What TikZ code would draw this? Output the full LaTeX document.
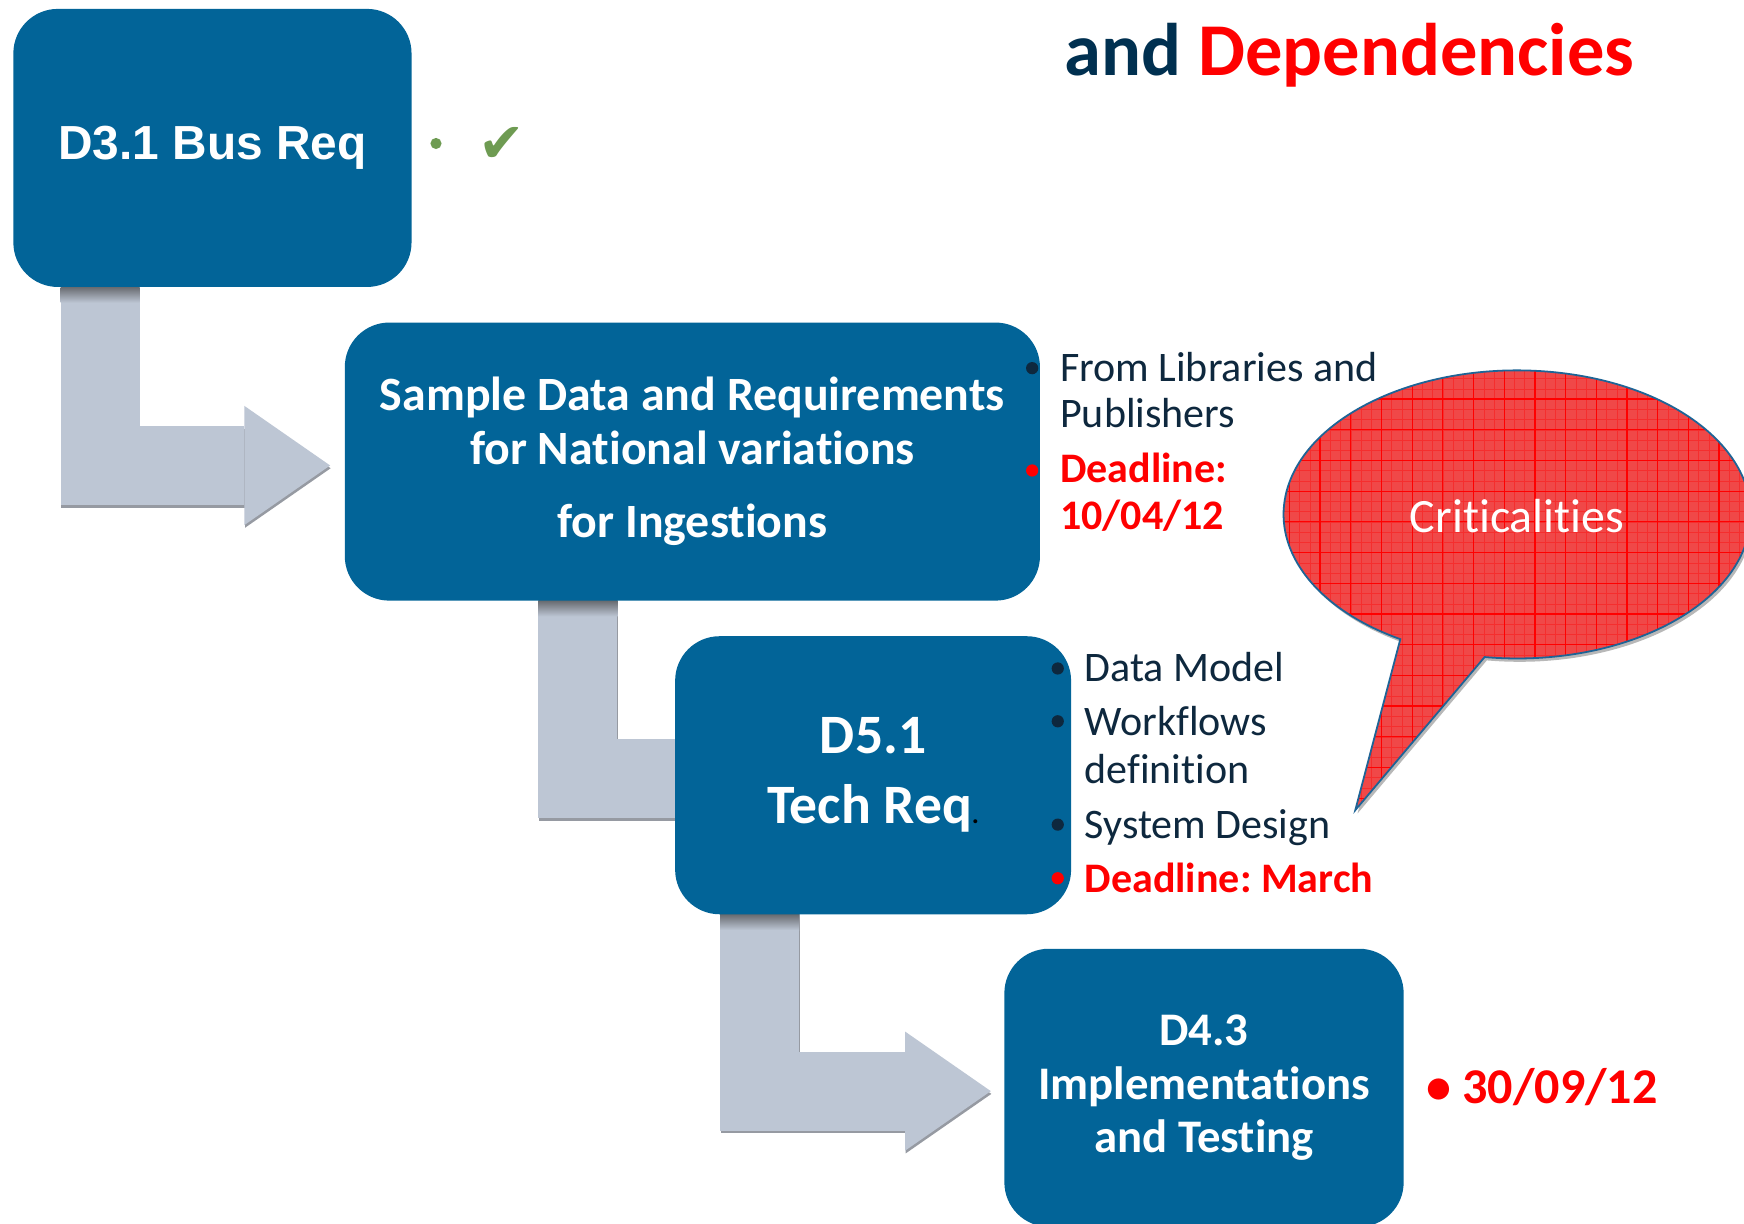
\documentclass[tikz,border=0pt]{standalone}
\usepackage{fontspec}
\setmainfont{Carlito}[Ligatures=NoCommon]
\newfontfamily\arialfont{Liberation Sans}
\newfontfamily\dejafont{DejaVu Sans}
\usetikzlibrary{arrows.meta,calc}
\pgfdeclarelayer{bglayer}
\pgfdeclarelayer{arrowlayer}
\pgfsetlayers{bglayer,arrowlayer,main}
\definecolor{boxblue}{RGB}{2,100,152}
\definecolor{arrowgray}{RGB}{189,198,212}
\definecolor{arrowedge}{RGB}{150,154,162}
\definecolor{itemnavy}{RGB}{14,40,62}
\definecolor{titlenavy}{RGB}{0,48,80}
\definecolor{checkgreen}{RGB}{110,155,82}
\definecolor{bubblefill}{RGB}{240,72,72}
\definecolor{bubbleborder}{RGB}{30,100,150}
\frenchspacing
\begin{document}
\begin{tikzpicture}[x=1pt,y=-1pt,
  stepbox/.style={rounded corners=40pt, fill=boxblue, text=white, align=center, inner sep=0pt, minimum height=250pt},
  bigarrow/.style={draw=arrowgray, line width=71pt, line join=miter, line cap=butt, -{Triangle[length=77pt,width=107pt,line width=0pt]}},
  arrowshadow/.style={bigarrow, draw=arrowedge, transform canvas={shift={(0.5pt,-2.5pt)}}},
  topshade/.style={top color=arrowedge!70!black, bottom color=arrowgray},
  item/.style={anchor=base west, inner sep=0pt, text=itemnavy, font=\fontsize{37.8}{42}\selectfont},
  reditem/.style={item, text=red, font=\bfseries\fontsize{37.8}{42}\selectfont},
  dot/.style={fill=itemnavy},
  reddot/.style={fill=red},
]
\useasboundingbox (0,0) rectangle (1568,1099.6);
\begin{pgfonlayer}{bglayer}
  \fill[white] (0,0) rectangle (1568,1099.6);
\end{pgfonlayer}

% boxes
\node[stepbox, minimum width=358pt, font=\arialfont\bfseries\fontsize{43}{48}\selectfont] (b1) at (191,133) {D3.1 Bus Req};
\node[stepbox, minimum width=625pt, font=\bfseries\fontsize{43}{48}\selectfont] (b2) at (622.5,415)
  {Sample Data and Requirements\\ for National variations\\[18pt] for Ingestions};
\node[stepbox, minimum width=356pt, font=\bfseries\fontsize{50}{63}\selectfont] (b3) at (785,697)
  {D5.1\\ Tech Req{\color{black}\fontsize{24}{24}\selectfont.}};
\node[stepbox, minimum width=359pt, font=\bfseries\fontsize{42}{48}\selectfont] (b4) at (1082.5,978)
  {D4.3\\ Implementations\\ and Testing};

% connectors
\begin{pgfonlayer}{arrowlayer}
  \draw[arrowshadow] ($(b1.south)+(-101,-25)$) |- ($(b2.west)+(-13,3.5)$);
  \draw[bigarrow] ($(b1.south)+(-101,-25)$) |- ($(b2.west)+(-13,3.5)$);
  \shade[topshade] ($(b1.south)+(-136.5,0)$) rectangle ++(71,14);

  \draw[arrowshadow] ($(b2.south)+(-103,-25)$) |- ($(b3.west)+(119,3)$);
  \draw[bigarrow] ($(b2.south)+(-103,-25)$) |- ($(b3.west)+(119,3)$);
  \shade[topshade] ($(b2.south)+(-138.5,0)$) rectangle ++(71,14);

  \draw[arrowshadow] ($(b3.south)+(-102,-25)$) |- ($(b4.west)+(-12,3)$);
  \draw[bigarrow] ($(b3.south)+(-102,-25)$) |- ($(b4.west)+(-12,3)$);
  \shade[topshade] ($(b3.south)+(-137.5,0)$) rectangle ++(71,14);
\end{pgfonlayer}

% title
\node[anchor=base west, inner sep=0pt, font=\bfseries\fontsize{67}{72}\selectfont] (title) at (957,68)
  {\textcolor{titlenavy}{and} \textcolor{red}{Dependencies}};

% D3.1 notes
\fill[checkgreen] (392,129) circle (5);
\node[text=checkgreen, inner sep=0pt, font=\dejafont\fontsize{50}{54}\selectfont] (chk) at (451,130) {✔};

% Sample data notes
\fill[dot] (928,331) circle (5.5);
\node[item] (l1) at (953,343.4) {From Libraries and};
\node[item] (l2) at (953,384.5) {Publishers};
\fill[reddot] (928,423) circle (5.5);
\node[reditem] (l3) at (953,433.6) {Deadline:};
\node[reditem] (l4) at (953,476) {10/04/12};

% D5.1 notes
\fill[dot] (951,601) circle (5.5);
\node[item] (m1) at (975,613) {Data Model};
\fill[dot] (951,648.5) circle (5.5);
\node[item] (m2) at (975,661) {Workflows};
\node[item] (m3) at (975,704) {definition};
\fill[dot] (951,741.4) circle (5.5);
\node[item] (m4) at (975,754) {System Design};
\fill[reddot] (951,789.6) circle (5.5);
\node[reditem] (m5) at (975,802) {Deadline: March};

% D4.3 note
\node[anchor=base west, inner sep=0pt, text=red, font=\bfseries\fontsize{45}{50}\selectfont] (d43) at (1282,992) {• 30/09/12};

% speech bubble
\coordinate (bc) at (1364,462.5);
\coordinate (tip) at (1218.5,728.4);
\def\bubble{($(bc)+(120:210 and 129.5)$) -- (tip) -- ($(bc)+(98:210 and 129.5)$) arc[start angle=98, end angle=-240, x radius=210, y radius=129.5] -- cycle}
\fill[black!28, transform canvas={shift={(2pt,-3pt)}}] \bubble;
\begin{scope}
  \clip \bubble;
  \fill[bubblefill] (1100,300) rectangle (1600,760);
  \draw[red, line width=0.4pt, opacity=0.35, step=9.2pt] (1100,300) grid (1600,760);
  \draw[red, line width=1.1pt, step=27.6pt] (1100,300) grid (1600,760);
\end{scope}
\draw[bubbleborder, line width=1.6pt, line join=miter] \bubble;
\node[text=white, inner sep=0pt, font=\fontsize{43}{48}\selectfont] (crit) at (1364,464) {Criticalities};
\end{tikzpicture}
\end{document}
